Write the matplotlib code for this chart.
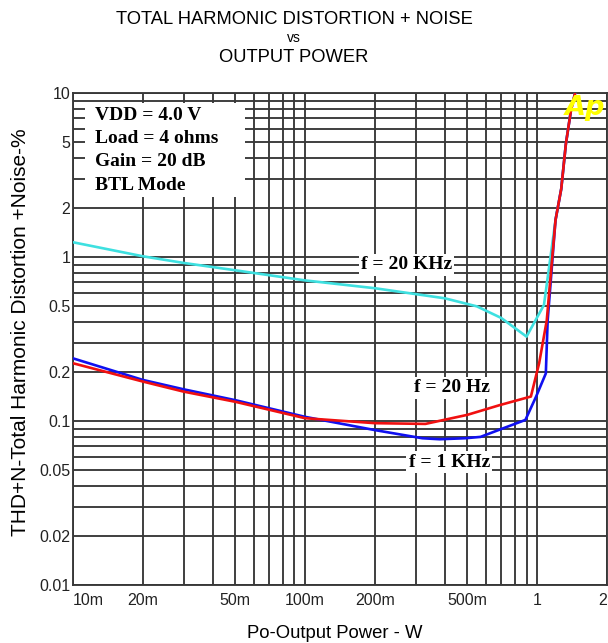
import matplotlib
matplotlib.use('Agg')
import matplotlib.pyplot as plt
from matplotlib.patches import Rectangle
from matplotlib.ticker import FixedLocator, FixedFormatter, NullFormatter

# THD+N (%) versus output power (W) for three test frequencies
p_20k = [0.01, 0.02, 0.03, 0.05, 0.1, 0.2, 0.4, 0.55, 0.7, 0.9, 1.07, 1.2, 1.27, 1.33, 1.4, 1.47]
thd_20k = [1.23, 1.01, 0.92, 0.83, 0.72, 0.645, 0.56, 0.50, 0.425, 0.327, 0.51, 1.68, 2.6, 4.9, 7.9, 10.5]

p_20 = [0.01, 0.02, 0.03, 0.05, 0.1, 0.2, 0.33, 0.5, 0.69, 0.94, 1.02, 1.1, 1.2, 1.27, 1.33, 1.4, 1.47]
thd_20 = [0.225, 0.174, 0.151, 0.131, 0.104, 0.097, 0.096, 0.109, 0.125, 0.141, 0.225, 0.41, 1.68, 2.6, 4.9, 7.9, 10.5]

p_1k = [0.01, 0.02, 0.03, 0.05, 0.1, 0.2, 0.32, 0.38, 0.49, 0.57, 0.71, 0.89, 0.99, 1.09, 1.11, 1.2, 1.27, 1.33, 1.4, 1.47]
thd_1k = [0.241, 0.178, 0.156, 0.134, 0.106, 0.088, 0.0785, 0.0774, 0.0785, 0.080, 0.090, 0.1015, 0.141, 0.195, 0.41, 1.68, 2.6, 4.9, 7.9, 10.5]

x_ticks = [0.01, 0.02, 0.05, 0.1, 0.2, 0.5, 1, 2]
x_labels = ['10m', '20m', '50m', '100m', '200m', '500m', '1', '2']
y_ticks = [0.01, 0.02, 0.05, 0.1, 0.2, 0.5, 1, 2, 5, 10]
y_labels = ['0.01', '0.02', '0.05', '0.1', '0.2', '0.5', '1', '2', '5', '10']

conditions = ['VDD = 4.0 V', 'Load = 4 ohms', 'Gain = 20 dB', 'BTL Mode']

fig = plt.figure(figsize=(6.08, 6.43), dpi=100)
ax = fig.add_axes([73 / 608, 58 / 643, 534 / 608, 492 / 643])
ax.set_xscale('log')
ax.set_yscale('log')
ax.set_xlim(0.01, 2)
ax.set_ylim(0.01, 10)

grid_c = '#383838'
ax.set_axisbelow(True)
ax.xaxis.set_major_locator(FixedLocator(x_ticks))
ax.xaxis.set_major_formatter(FixedFormatter(x_labels))
ax.yaxis.set_major_locator(FixedLocator(y_ticks))
ax.yaxis.set_major_formatter(FixedFormatter(y_labels))
minor_x = [m * d for d in (0.01, 0.1, 1) for m in range(1, 10) if m * d <= 2]
minor_y = [m * d for d in (0.01, 0.1, 1) for m in range(1, 10)]
ax.xaxis.set_minor_locator(FixedLocator(minor_x))
ax.yaxis.set_minor_locator(FixedLocator(minor_y))
ax.xaxis.set_minor_formatter(NullFormatter())
ax.yaxis.set_minor_formatter(NullFormatter())
ax.grid(which='both', color=grid_c, linewidth=1.35)
ax.tick_params(which='both', length=0, labelsize=11.5, colors='#222222')
ax.tick_params(axis='x', pad=6)
ax.tick_params(axis='y', pad=2)
for sp in ax.spines.values():
    sp.set_color(grid_c)
    sp.set_linewidth(1.35)

xl = ax.get_xticklabels()
xl[0].set_horizontalalignment('left')
xl[-1].set_horizontalalignment('right')

ax.plot(p_20k, thd_20k, color='#3ee0e0', lw=1.9, zorder=4)
ax.plot(p_1k, thd_1k, color='#1010f0', lw=1.9, zorder=4)
ax.plot(p_20, thd_20, color='#f01010', lw=1.9, zorder=4)

# white panel with the test conditions
ax.add_patch(Rectangle((0.0225, 0.789), 0.30, 0.191, transform=ax.transAxes,
                       facecolor='white', edgecolor='none', zorder=3))
serif = dict(family='Liberation Serif', weight='bold', fontsize=14, zorder=5)
for i, s in enumerate(conditions):
    ax.text(0.041, 0.954 - i * 0.047, s, transform=ax.transAxes,
            ha='left', va='center', **serif)

box = dict(facecolor='white', edgecolor='none', pad=1.5)
ax.text(0.273, 0.894, 'f = 20 KHz', ha='center', va='center', bbox=box, **serif)
ax.text(0.431, 0.159, 'f = 20 Hz', ha='center', va='center', bbox=box, **serif)
ax.text(0.418, 0.0562, 'f = 1 KHz', ha='center', va='center', bbox=box, **serif)

fig.text(585 / 608, 1 - 108 / 643, 'Ap', color='#ffff00', fontsize=19.5,
         weight='bold', style='italic', ha='center', va='center', zorder=6)

fig.text(294 / 608, 1 - 20 / 643, 'TOTAL HARMONIC DISTORTION + NOISE',
         ha='center', va='center', fontsize=13.2, family='Liberation Sans')
fig.text(294 / 608, 1 - 38 / 643, 'vs', ha='center', va='center',
         fontsize=10, family='Liberation Sans')
fig.text(294 / 608, 1 - 57 / 643, 'OUTPUT POWER', ha='center', va='center',
         fontsize=13.2, family='Liberation Sans')
fig.text(335 / 608, 1 - 633 / 643, 'Po-Output Power - W', ha='center', va='center',
         fontsize=13.3, family='Liberation Sans')
fig.text(21 / 608, 1 - 332 / 643, 'THD+N-Total Harmonic Distortion +Noise-%',
         ha='center', va='center', rotation=90, fontsize=15, family='Liberation Sans')

for t in ax.get_xticklabels() + ax.get_yticklabels():
    t.set_family('Liberation Sans')

fig.savefig('out.png', dpi=100)
